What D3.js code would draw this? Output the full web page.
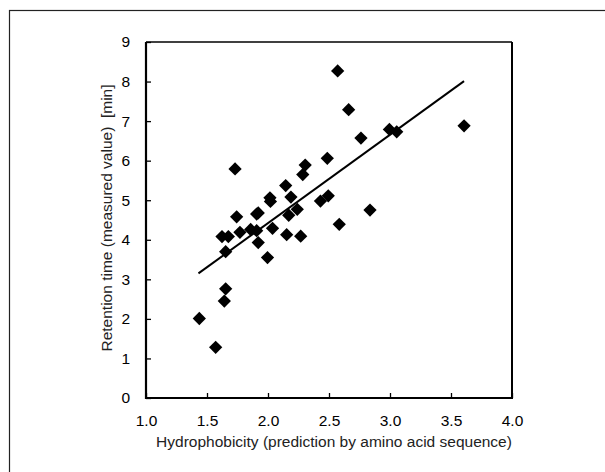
<!DOCTYPE html>
<html>
<head>
<meta charset="utf-8">
<script src="https://cdn.jsdelivr.net/npm/d3@7"></script>
<style>
body{margin:0;background:#fff;}
svg{display:block;font-family:"Liberation Sans",Arial,sans-serif;}
</style>
</head>
<body>
<script>
// hydrophobicity (x) vs retention time (y)
var hydro=[1.437,1.571,1.642,1.653,1.653,1.623,1.675,1.73,1.743,1.77,1.858,1.907,1.907,1.92,1.92,1.996,2.016,2.02,2.037,2.145,2.153,2.17,2.188,2.24,2.268,2.285,2.305,2.43,2.486,2.494,2.571,2.584,2.661,2.762,2.836,2.995,3.055,3.607];
var retTime=[2.01,1.28,2.45,2.76,3.70,4.08,4.08,5.79,4.58,4.19,4.26,4.23,4.65,4.68,3.93,3.55,5.06,4.97,4.29,5.37,4.13,4.62,5.08,4.77,4.09,5.65,5.89,4.98,6.06,5.11,8.27,4.39,7.29,6.57,4.75,6.79,6.73,6.88];
var lineX=[1.43,3.607];
var lineY=[3.15,8.01];
var xTicks=[1.0,1.5,2.0,2.5,3.0,3.5,4.0];
var yTicks=[0,1,2,3,4,5,6,7,8,9];

drawChart();

function drawChart(){
  var width=605,height=472;
  var pLeft=146,pRight=512,pTop=42,pBottom=398;

  var svg=d3.select('body').append('svg')
    .attr('width',width)
    .attr('height',height);

  // outer frame, runs off the right and bottom edge
  svg.append('rect')
    .attr('x',9.5).attr('y',10.5)
    .attr('width',620).attr('height',480)
    .style('fill','none')
    .style('stroke','#222')
    .style('stroke-width',1.2);

  var xScale=d3.scaleLinear().domain([1,4]).range([pLeft,pRight]);
  var yScale=d3.scaleLinear().domain([0,9]).range([pBottom,pTop]);

  var xAxis=d3.axisBottom(xScale)
    .tickValues(xTicks)
    .tickFormat(d3.format('.1f'))
    .tickSizeInner(-5)
    .tickSizeOuter(0)
    .tickPadding(17);

  var yAxis=d3.axisLeft(yScale)
    .tickValues(yTicks)
    .tickFormat(d3.format('d'))
    .tickSizeInner(-5)
    .tickSizeOuter(0)
    .tickPadding(16);

  var gx=svg.append('g')
    .attr('transform','translate(0,'+pBottom+')')
    .call(xAxis);
  var gy=svg.append('g')
    .attr('transform','translate('+pLeft+',0)')
    .call(yAxis);

  [gx,gy].forEach(function(g){
    g.select('.domain').remove();
    g.selectAll('.tick line').style('stroke','#000').style('stroke-width',1.3);
    g.selectAll('.tick text')
      .style('font-size','15.5px')
      .style('fill','#000')
      .style('font-family','"Liberation Sans",Arial,sans-serif');
  });

  // plot box
  svg.append('line').attr('x1',pLeft).attr('x2',pRight).attr('y1',pTop).attr('y2',pTop)
    .style('stroke','#000').style('stroke-width',1.3);
  svg.append('line').attr('x1',pRight).attr('x2',pRight).attr('y1',pTop).attr('y2',pBottom)
    .style('stroke','#000').style('stroke-width',2);
  svg.append('line').attr('x1',pLeft).attr('x2',pLeft).attr('y1',pTop).attr('y2',pBottom+1)
    .style('stroke','#000').style('stroke-width',2.2);
  svg.append('line').attr('x1',pLeft-1).attr('x2',pRight+1).attr('y1',pBottom).attr('y2',pBottom)
    .style('stroke','#000').style('stroke-width',2.2);

  // trend line
  svg.append('line')
    .attr('x1',xScale(lineX[0])).attr('y1',yScale(lineY[0]))
    .attr('x2',xScale(lineX[1])).attr('y2',yScale(lineY[1]))
    .style('stroke','#000')
    .style('stroke-width',2);

  var diamond=d3.symbol().type(d3.symbolSquare).size(88);
  svg.append('g').selectAll('path')
    .data(hydro)
    .enter()
    .append('path')
    .attr('d',diamond)
    .attr('transform',function(d,i){
      return 'translate('+xScale(d)+','+yScale(retTime[i])+') rotate(45)';
    })
    .style('fill','#000');

  svg.append('text')
    .attr('x',334).attr('y',447)
    .attr('text-anchor','middle')
    .style('font-size','15.5px')
    .style('fill','#222')
    .text('Hydrophobicity (prediction by amino acid sequence)');

  svg.append('text')
    .attr('transform','translate(112,218) rotate(-90)')
    .attr('text-anchor','middle')
    .style('font-size','15.5px')
    .style('fill','#222')
    .style('white-space','pre')
    .text('Retention time (measured value)  [min]');
}
</script>
</body>
</html>
